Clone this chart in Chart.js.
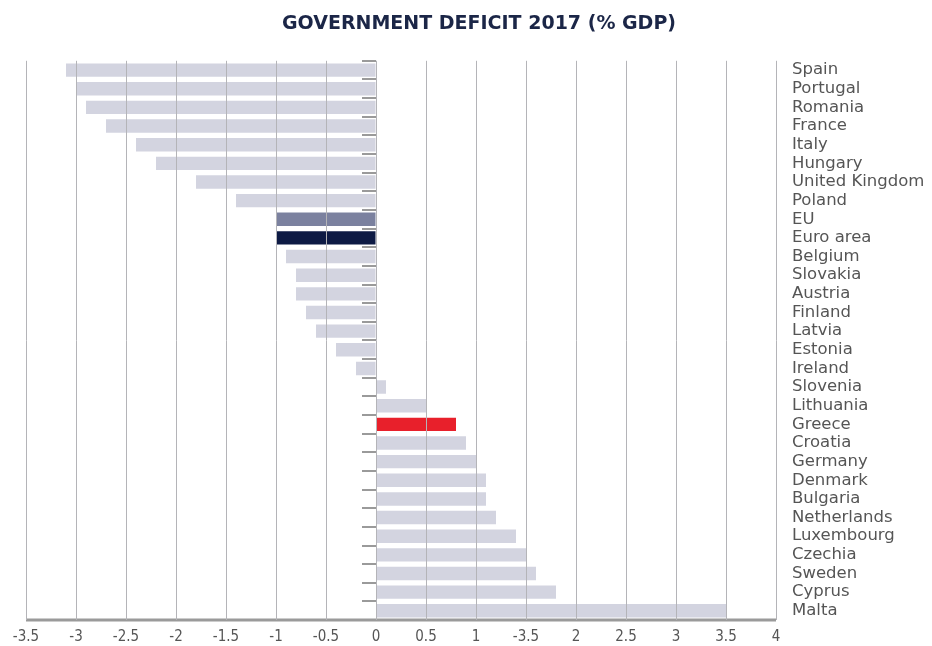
<!DOCTYPE html>
<html lang="en">
<head>
  <meta charset="UTF-8">
  <title>Government deficit 2017 (% GDP)</title>
  <script src="https://cdn.jsdelivr.net/npm/chart.js"></script>
  <style>
    html, body { margin: 0; padding: 0; background: #ffffff; }
    #chart-container { width: 932px; height: 646px; position: relative; }
  </style>
</head>
<body>
<div id="chart-container">
  <canvas id="barChart"></canvas>
</div>
<script>
  // countries, top to bottom
  const countries = ['Spain', 'Portugal', 'Romania', 'France', 'Italy', 'Hungary', 'United Kingdom', 'Poland',
    'EU', 'Euro area', 'Belgium', 'Slovakia', 'Austria', 'Finland', 'Latvia', 'Estonia', 'Ireland',
    'Slovenia', 'Lithuania', 'Greece', 'Croatia', 'Germany', 'Denmark', 'Bulgaria', 'Netherlands',
    'Luxembourg', 'Czechia', 'Sweden', 'Cyprus', 'Malta'];
  const deficit = [-3.1, -3.0, -2.9, -2.7, -2.4, -2.2, -1.8, -1.4,
    -1.0, -1.0, -0.9, -0.8, -0.8, -0.7, -0.6, -0.4, -0.2,
    0.1, 0.5, 0.8, 0.9, 1.0, 1.1, 1.1, 1.2,
    1.4, 1.5, 1.6, 1.8, 3.5];
  // x tick labels as printed (the 1.5 tick reads "-3.5" in the original)
  const tickLabels = ['-3.5', '-3', '-2.5', '-2', '-1.5', '-1', '-0.5', '0', '0.5', '1', '-3.5', '2', '2.5', '3', '3.5', '4'];

  const barColors = countries.map(function (c) {
    if (c === 'EU') return '#7b819f';
    if (c === 'Euro area') return '#0d1a44';
    if (c === 'Greece') return '#e8202b';
    return '#d3d4e0';
  });

  // little dashes left of the zero line between rows, plus the thick bottom axis line
  const zeroTicks = {
    id: 'zeroTicks',
    afterDatasetsDraw(chart) {
      const ctx = chart.ctx;
      const x = chart.scales.x, y = chart.scales.y;
      const x0 = x.getPixelForValue(0);
      const half = (y.getPixelForValue(1) - y.getPixelForValue(0)) / 2;
      ctx.save();
      ctx.strokeStyle = '#9a9a9a';
      ctx.lineWidth = 2;
      for (let i = 0; i < countries.length; i++) {
        const yy = Math.round(y.getPixelForValue(i) - half);
        ctx.beginPath();
        ctx.moveTo(x0 - 14, yy);
        ctx.lineTo(x0, yy);
        ctx.stroke();
      }
      ctx.lineWidth = 3;
      ctx.beginPath();
      ctx.moveTo(x.left, y.bottom);
      ctx.lineTo(x.right, y.bottom);
      ctx.stroke();
      ctx.restore();
    }
  };

  const ctx = document.getElementById('barChart').getContext('2d');
  new Chart(ctx, {
    type: 'bar',
    data: {
      labels: countries,
      datasets: [{
        data: deficit,
        backgroundColor: barColors,
        borderWidth: 0,
        categoryPercentage: 1,
        barPercentage: 0.72
      }]
    },
    options: {
      indexAxis: 'y',
      responsive: true,
      maintainAspectRatio: false,
      animation: false,
      layout: { padding: { left: 26, right: 0, top: 0, bottom: 0 } },
      plugins: {
        legend: { display: false },
        tooltip: { enabled: false },
        title: {
          display: true,
          text: 'GOVERNMENT DEFICIT 2017 (% GDP)',
          color: '#1b2647',
          font: { family: 'DejaVu Sans', size: 19, weight: 'bold' },
          padding: { top: 13, bottom: 25 }
        }
      },
      scales: {
        x: {
          min: -3.5,
          max: 4,
          afterFit: function (scale) { scale.height = 22; },
          ticks: {
            stepSize: 0.5,
            color: '#555555',
            padding: 8,
            font: { family: 'DejaVu Sans Condensed', size: 15 },
            callback: function (value, index) { return tickLabels[index]; }
          },
          grid: { color: '#b4b4b8', lineWidth: 1, drawTicks: false, z: 1 },
          border: { display: false }
        },
        y: {
          position: 'right',
          afterFit: function (scale) { scale.width = 156; },
          ticks: {
            color: '#555555',
            padding: 16,
            autoSkip: false,
            font: { family: 'DejaVu Sans', size: 16.5 }
          },
          grid: { display: false, drawTicks: false },
          border: { display: false }
        }
      }
    },
    plugins: [zeroTicks]
  });
</script>
</body>
</html>
